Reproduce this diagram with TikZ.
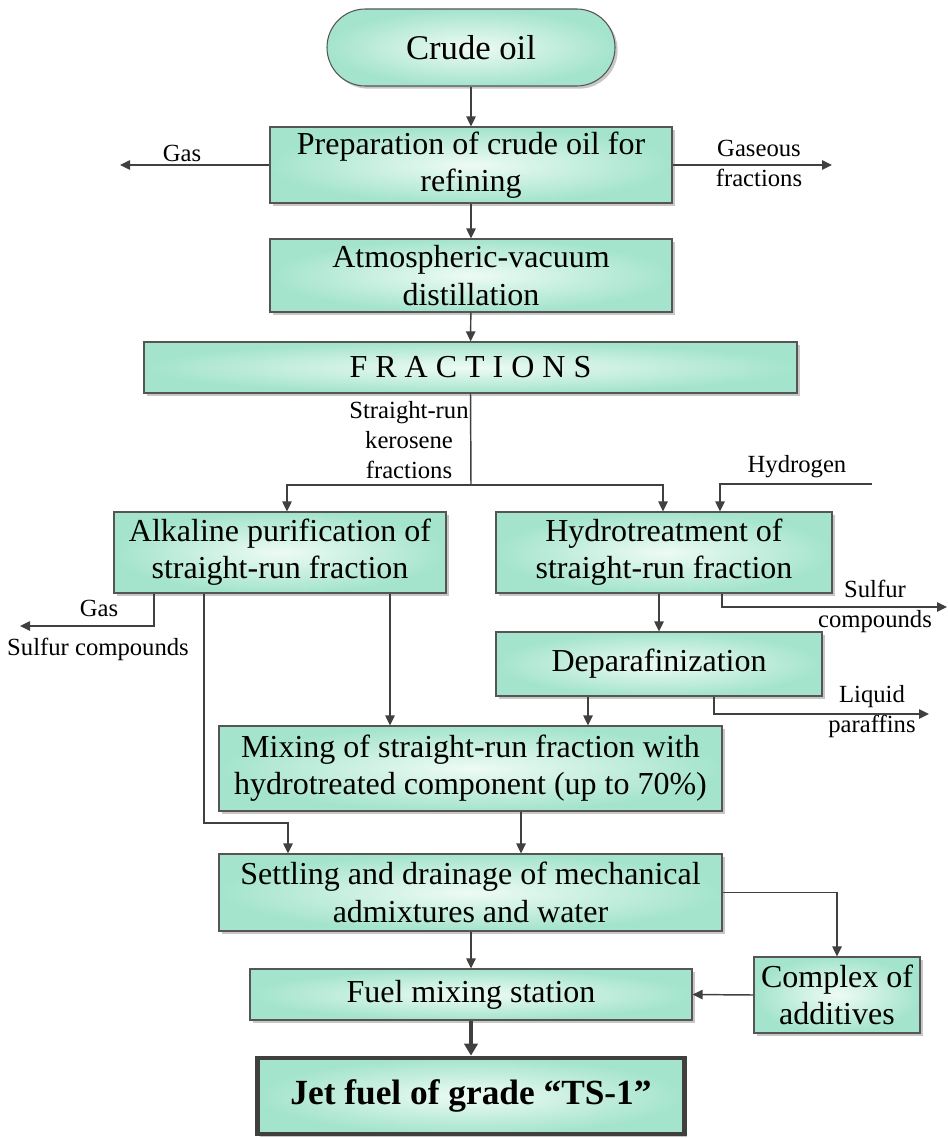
\documentclass[tikz,border=0pt]{standalone}
\usepackage{fontspec}
\setmainfont{Liberation Serif}
\usepackage{xcolor}
\usepackage{tikz}
\usetikzlibrary{arrows.meta, positioning, calc, shadows}
\definecolor{mint}{RGB}{164,228,204}
\definecolor{mintlight}{RGB}{238,251,245}
\definecolor{framegray}{RGB}{85,85,85}
\definecolor{linegray}{RGB}{64,64,64}

\begin{document}
\begin{tikzpicture}[x=0.75pt, y=-0.75pt,
      stage/.style={rectangle, draw=framegray, line width=0.8pt, shading=radial,
        inner color=mintlight, outer color=mint, align=center, inner sep=2pt,
        drop shadow={shadow xshift=2pt, shadow yshift=-2pt, fill=black!22, opacity=1},
        font=\fontsize{24}{28}\selectfont},
      terminal/.style={stage, rounded corners=28.8pt, minimum width=216pt,
        minimum height=57.75pt, font=\fontsize{26}{30}\selectfont},
      product/.style={stage, draw=linegray, line width=3.5pt,
        font=\fontsize{26.5}{30}\selectfont\bfseries},
      tag/.style={align=center, inner sep=0pt, font=\fontsize{18.5}{22.5}\selectfont},
      link/.style={draw=linegray, line width=1.1pt},
      flow/.style={link, -{Triangle[length=7.5pt, width=7pt]}},
      bigflow/.style={draw=linegray, line width=2.4pt, -{Triangle[length=9pt, width=10pt]}}
    ]
      \useasboundingbox (0,0) rectangle (948,1138);

      % main line
      \node[terminal] (crude) at (471,47.5) {Crude oil};
      \node[stage, minimum width=301.5pt, minimum height=57pt] (prep) at (471,165)
        {Preparation of crude oil for\\refining};
      \node[stage, minimum width=301.5pt, minimum height=54.75pt] (atmo) at (471,275.5)
        {Atmospheric-vacuum\\distillation};
      \node[stage, minimum width=489.75pt, minimum height=38.25pt] (frac) at (470.5,367.5)
        {F R A C T I O N S};
      \node[stage, minimum width=249pt, minimum height=60.75pt] (alk) at (280,552.5)
        {Alkaline purification of\\straight-run fraction};
      \node[stage, minimum width=252pt, minimum height=60.75pt] (hydro) at (664,552.5)
        {Hydrotreatment of\\straight-run fraction};
      \node[stage, minimum width=244.5pt, minimum height=48pt] (depar) at (659,664)
        {Deparafinization};
      \node[stage, minimum width=377.25pt, minimum height=63.75pt] (mix) at (470.5,768.5)
        {Mixing of straight-run fraction with\\hydrotreated component (up to 70\%)};
      \node[stage, minimum width=377.25pt, minimum height=57.75pt] (settle) at (470.5,892.5)
        {Settling and drainage of mechanical\\admixtures and water};
      \node[stage, minimum width=124.5pt, minimum height=57pt] (additives) at (837,995)
        {Complex of\\additives};
      \node[stage, minimum width=331.5pt, minimum height=38.25pt] (station) at (471,994.5)
        {Fuel mixing station};
      \node[product, minimum width=320pt, minimum height=57pt] (jet) at (471,1096)
        {Jet fuel of grade “TS-1”};

      % side streams
      \node[tag] (gasTop) at (182,153) {Gas};
      \node[tag] (gasFrac) at (759,163) {Gaseous\\fractions};
      \node[tag] (kero) at (409,440) {Straight-run\\kerosene\\fractions};
      \node[tag] (h2Tag) at (797,467) {Hydrogen};
      \node[tag] (sulfRight) at (875,606) {Sulfur\\compounds};
      \node[tag] (paraf) at (872,712) {Liquid\\paraffins};
      \node[tag] (gasLeft) at (99,608) {Gas};
      \node[tag] (sulfLeft) at (98,649) {Sulfur compounds};

      \coordinate (gasOut) at (120,165);
      \coordinate (gasFracOut) at (832,165);
      \coordinate (split) at (471,485);
      \coordinate (h2In) at (872,484);
      \coordinate (sulfOut) at (947,607);
      \coordinate (parafOut) at (929,714);
      \coordinate (gasLeftOut) at (20,626);

      \draw[flow] (crude) -- (prep);
      \draw[flow] (prep.west) -- (gasOut);
      \draw[flow] (prep.east) -- (gasFracOut);
      \draw[flow] (prep) -- (atmo);
      \draw[flow] (atmo) -- (frac);
      \draw[link] (frac.south) -- (split);
      \draw[flow] (split) -| (alk.north -| 287,0);
      \draw[flow] (split) -| (hydro.north -| 663,0);
      \draw[flow] (h2In) -| (hydro.north -| 720,0);
      \draw[flow] (hydro.south -| 722,0) |- (sulfOut);
      \draw[flow] (hydro.south -| depar.north) -- (depar.north);
      \draw[flow] (depar.south -| 714,0) |- (parafOut);
      \draw[flow] (depar.south -| 588,0) -- (mix.north -| 588,0);
      \draw[flow] (alk.south -| 154,0) |- (gasLeftOut);
      \draw[flow] (alk.south -| 390,0) -- (mix.north -| 390,0);
      \draw[flow] (alk.south -| 204,0) -- (204,823) -| (settle.north -| 288,0);
      \draw[flow] (mix.south -| 521,0) -- (settle.north -| 521,0);
      \draw[flow] (settle.east) -| (additives.north);
      \draw[flow] (additives.west) -- (station.east);
      \draw[flow] (settle.south -| station.north) -- (station.north);
      \draw[bigflow] (station) -- (jet);
    \end{tikzpicture}
\end{document}
